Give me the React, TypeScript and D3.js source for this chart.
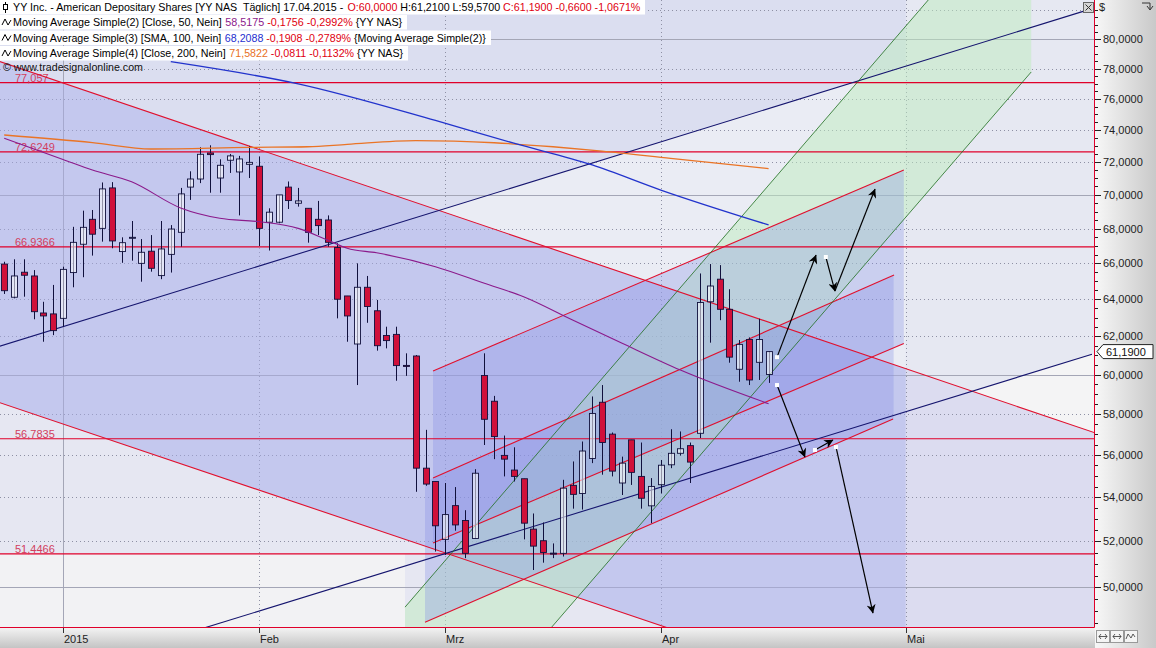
import * as d3 from 'd3';

const W = 1156;
const H = 648;
const PW = 1094; // plot right edge
const PH = 627; // plot bottom edge

// daily bars, index 0 = 23.12.2014 ... index 78 = 17.04.2015
const opens = [65.96, 64.11, 65.5, 65.29, 63.25, 63.2, 62.96, 65.48, 67.09, 68.54,
  68.01, 70.41, 66.67, 67.47, 66.0, 66.69, 65.31, 66.51, 67.78, 70.46,
  70.95, 72.55, 71.01, 72.1, 71.38, 71.85, 71.73, 68.37, 68.37, 70.46,
  69.49, 69.19, 68.54, 68.5, 66.9, 64.18, 61.59, 64.66, 63.37, 62.04,
  62.1, 60.47, 60.96, 55.37, 54.74, 52.09, 53.62, 52.94, 52.13, 59.95,
  58.64, 55.98, 55.28, 54.87, 52.55, 52.03, 51.48, 51.47, 54.56, 54.18,
  55.83, 58.59, 57.01, 54.67, 56.73, 54.98, 53.61, 54.59, 55.53, 56.08,
  56.45, 57.05, 63.86, 65.11, 63.45, 60.27, 61.83, 60.63, 60.0];
const highs = [66.09, 66.23, 66.23, 65.62, 63.86, 64.79, 65.81, 68.1, 69.05, 69.09,
  70.74, 70.76, 67.49, 68.44, 67.39, 67.62, 68.44, 68.2, 70.41, 71.42,
  72.91, 73.03, 72.16, 72.49, 72.37, 72.99, 72.33, 69.19, 69.99, 70.8,
  70.41, 69.19, 69.63, 68.77, 67.15, 64.18, 66.0, 65.29, 63.96, 62.51,
  62.51, 61.1, 61.01, 57.22, 54.74, 54.67, 54.48, 53.41, 55.32, 61.1,
  58.91, 56.94, 56.37, 54.87, 53.26, 52.85, 51.91, 54.82, 55.69, 56.65,
  58.88, 59.46, 57.09, 55.92, 56.73, 56.6, 54.9, 55.76, 57.25, 57.14,
  56.6, 65.43, 65.96, 65.9, 64.55, 61.8, 61.94, 62.94, 61.21];
const lows = [64.29, 64.05, 64.14, 62.91, 61.71, 62.06, 62.51, 64.66, 65.22, 66.44,
  67.24, 66.86, 66.03, 66.15, 64.97, 65.53, 65.11, 65.48, 66.95, 69.69,
  70.7, 70.12, 70.12, 71.32, 68.77, 71.01, 66.99, 66.73, 68.31, 69.15,
  69.29, 67.18, 67.62, 66.95, 62.96, 61.71, 59.46, 62.72, 61.24, 61.36,
  59.68, 59.93, 54.26, 54.54, 51.55, 51.4, 52.48, 51.26, 52.13, 56.48,
  55.8, 54.98, 54.74, 52.09, 50.74, 51.06, 51.26, 51.33, 53.48, 53.44,
  55.61, 55.06, 54.98, 54.11, 54.58, 53.48, 52.82, 54.18, 55.37, 55.97,
  54.67, 56.82, 61.66, 62.86, 60.61, 59.63, 59.46, 59.72, 59.57];
const closes = [64.47, 65.29, 65.33, 63.32, 63.09, 62.3, 65.66, 67.2, 68.07, 67.67,
  70.35, 67.28, 67.18, 67.49, 66.63, 65.72, 66.82, 67.97, 70.05, 70.95,
  72.47, 72.45, 71.79, 72.37, 72.18, 71.97, 68.01, 68.96, 69.99, 69.65,
  69.63, 67.78, 68.17, 67.2, 64.0, 63.09, 64.66, 63.6, 61.5, 61.77,
  60.46, 60.46, 55.37, 54.62, 52.7, 53.21, 52.74, 51.47, 55.13, 57.74,
  56.89, 55.8, 54.98, 52.82, 51.79, 51.51, 51.47, 54.43, 54.14, 56.19,
  58.03, 56.6, 55.23, 55.61, 55.17, 53.96, 54.51, 55.51, 56.08, 56.3,
  55.66, 63.82, 64.73, 63.45, 60.9, 61.57, 59.72, 61.83, 61.19];

const monthLabels = ['2015', 'Feb', 'Mrz', 'Apr', 'Mai'];
const monthIndex = [6, 26, 45, 67, 92];

const priceTicks = [50, 52, 54, 56, 58, 60, 62, 64, 66, 68, 70, 72, 74, 76, 78, 80];
const gridLevels = [50, 52, 54, 56, 58, 60, 62, 64, 66, 68, 70, 72, 74, 76, 78, 80, 82];
const minorTicks = [48.5, 49, 49.5, 50.5, 51, 51.5, 52.5, 53, 53.5, 54.5, 55, 55.5, 56.5, 57, 57.5,
  58.5, 59, 59.5, 60.5, 61, 61.5, 62.5, 63, 63.5, 64.5, 65, 65.5, 66.5, 67, 67.5, 68.5, 69, 69.5,
  70.5, 71, 71.5, 72.5, 73, 73.5, 74.5, 75, 75.5, 76.5, 77, 77.5, 78.5, 79, 79.5, 80.5, 81, 81.5, 82];

const levelValues = [77.057, 72.6249, 66.9366, 56.7835, 51.4466];
const levelLabels = ['77,057', '72,6249', '66,9366', '56,7835', '51,4466'];

// moving averages, [bar index, value]
const ma50Idx = [0, 6, 9, 13, 18, 22, 26, 30, 33, 35, 38, 44, 49, 53, 58, 63, 69, 78];
const ma50Val = [73.47, 72.15, 71.5, 70.78, 69.21, 68.6, 68.4, 68.01, 67.33, 66.86, 66.6, 65.81,
  64.88, 64.14, 62.87, 61.64, 60.23, 58.5175];
const ma100Idx = [17, 30, 44, 52, 60, 67, 78];
const ma100Val = [78.46, 76.98, 74.6, 73.16, 71.81, 70.28, 68.2088];
const ma200Idx = [0, 9, 15, 25, 31, 35, 42, 50, 56, 61, 68, 78];
const ma200Val = [73.68, 73.2, 72.8, 72.9, 72.94, 73.09, 73.32, 73.19, 72.94, 72.67, 72.22, 71.5822];

// drawing tools, anchors as [bar index, price]
type Pt = [number, number];
const descUpper: Pt[] = [[-1, 78.59], [112, 56.96]];
const descLower: Pt[] = [[-1, 58.66], [70, 47.97]];
const navyUpper: Pt[] = [[-1, 61.39], [111, 82.11]];
const navyLower: Pt[] = [[20, 48.23], [111, 61.05]];
const riseTop: Pt[] = [[43.76, 60.18], [91.8, 71.5]];
const riseMid: Pt[] = [[43.76, 51.93], [91.8, 61.62]];
const riseB1: Pt[] = [[43.76, 54.9], [90.8, 65.34]];
const riseB2: Pt[] = [[42.94, 48.52], [90.7, 57.75]];
const greenUpper: Pt[] = [[40.9, 49.15], [96, 84.11]];
const greenLower: Pt[] = [[54.7, 47.77], [104.8, 77.77]];
const greenSpan = [40.9, 104.8];
const descEnd = 92;
const navyCross = 44.3; // navy upper meets desc upper

// arrows [i1, v1, i2, v2, start dot]
const arrows: [number, number, number, number, boolean][] = [
  [78.86, 60.9, 82.84, 66.47, true],
  [83.84, 66.36, 84.77, 64.45, true],
  [84.77, 64.45, 88.86, 70.34, false],
  [78.86, 59.46, 81.71, 55.9, true],
  [82.73, 56.24, 84.57, 56.72, true],
  [84.88, 56.38, 88.65, 48.9, true],
];

const locale = d3.formatLocale({ decimal: ',', thousands: '.', grouping: [3], currency: ['', ''] });
const f4 = locale.format('.4f');

const x = d3.scaleLinear().domain([0, 100]).range([4.2, 984.2]);
const y = d3.scaleLog().domain([48.32, 82.72]).range([PH, 0]);

const toPx = (p: Pt): Pt => [x(p[0]), y(p[1])];
function onLine(seg: Pt[], i: number): Pt {
  const [x1, y1] = toPx(seg[0]);
  const [x2, y2] = toPx(seg[1]);
  const xi = x(i);
  return [xi, y1 + ((xi - x1) / (x2 - x1)) * (y2 - y1)];
}
const poly = (pts: Pt[]) => 'M' + pts.map((p) => `${p[0].toFixed(1)},${p[1].toFixed(1)}`).join('L') + 'Z';
const band = (a: Pt[], b: Pt[], i0: number, i1: number) =>
  poly([onLine(a, i0), onLine(a, i1), onLine(b, i1), onLine(b, i0)]);

const FONT = '"Liberation Sans", Arial, sans-serif';
const RED = '#e0102e';
const last = closes.length - 1;

let ctx: CanvasRenderingContext2D | null = null;
function measure(s: string, size: number) {
  if (!ctx) ctx = document.createElement('canvas').getContext('2d');
  if (!ctx) return s.length * size * 0.5;
  ctx.font = `${size}px "Liberation Sans", Arial, sans-serif`;
  return ctx.measureText(s).width;
}

const legendRows: { w: number; tl: number; icon: string; parts: [string, string][] }[] = [
  {
    w: 645, tl: 628, icon: 'bar',
    parts: [
      ['YY Inc. - American Depositary Shares [YY NAS  Täglich] 17.04.2015 - ', '#000'],
      [`O:${f4(opens[last])}`, '#e00010'],
      [` H:${f4(highs[last])} L:${f4(lows[last])} `, '#000'],
      [`C:${f4(closes[last])} -0,6600 -1,0671%`, '#e00010'],
    ],
  },
  {
    w: 407, tl: 390, icon: 'ma',
    parts: [
      ['Moving Average Simple(2) [Close, 50, Nein] ', '#000'],
      [f4(ma50Val[ma50Val.length - 1]), '#8b1a8b'],
      [' -0,1756 -0,2992%', '#e00010'],
      [' {YY NAS}', '#000'],
    ],
  },
  {
    w: 491, tl: 474, icon: 'ma',
    parts: [
      ['Moving Average Simple(3) [SMA, 100, Nein] ', '#000'],
      [f4(ma100Val[ma100Val.length - 1]), '#1f2fd0'],
      [' -0,1908 -0,2789%', '#e00010'],
      [' {Moving Average Simple(2)}', '#000'],
    ],
  },
  {
    w: 408, tl: 391, icon: 'ma',
    parts: [
      ['Moving Average Simple(4) [Close, 200, Nein] ', '#000'],
      [f4(ma200Val[ma200Val.length - 1]), '#e8701c'],
      [' -0,0811 -0,1132%', '#e00010'],
      [' {YY NAS}', '#000'],
    ],
  },
];

function maPath(idx: number[], val: number[]) {
  const line = d3
    .line<number>()
    .x((_, k) => x(idx[k]))
    .y((v) => y(v))
    .curve(d3.curveMonotoneX);
  return line(val) || '';
}

function LegendRow({ row, top }: { row: (typeof legendRows)[number]; top: number }) {
  const base = 11.5;
  const total = d3.sum(row.parts, (p) => measure(p[0], base));
  const fs = Math.min(12, (base * row.tl) / total);
  let cx = 13;
  return (
    <g>
      <rect x={0} y={top} width={row.w} height={14.5} fill="#fff" />
      {row.icon === 'bar' ? (
        <g stroke="#000" fill="#fff">
          <line x1={5.5} x2={5.5} y1={top + 2} y2={top + 13} />
          <rect x={3.5} y={top + 4.5} width={4} height={5} />
        </g>
      ) : (
        <path d={`M2,${top + 10} L5,${top + 4} L8,${top + 10} L11,${top + 5}`} fill="none" stroke="#000" />
      )}
      {row.parts.map((p, j) => {
        const lead = p[0].length - p[0].trimStart().length;
        const txt = p[0].trim();
        const x0 = cx + measure(p[0].slice(0, lead), fs);
        cx += measure(p[0], fs);
        return (
          <text key={j} x={x0} y={top + 11} fontSize={fs} fill={p[1]} style={{ whiteSpace: 'pre' }}>
            {txt}
          </text>
        );
      })}
    </g>
  );
}

export default function App() {
  const bottom = PH + 10;
  const lastY = y(closes[last]);

  return (
    <div>
      <style>{'body{margin:0;overflow:hidden;}'}</style>
      <svg width={W} height={H} style={{ display: 'block', fontFamily: FONT }}>
        <defs>
          <clipPath id="plot">
            <rect x={0} y={0} width={PW} height={PH} />
          </clipPath>
          <linearGradient id="axR" x1="0" x2="1" y1="0" y2="0">
            <stop offset="0%" stopColor="#f7f7f7" />
            <stop offset="100%" stopColor="#c9c9c9" />
          </linearGradient>
          <linearGradient id="axB" x1="0" x2="0" y1="0" y2="1">
            <stop offset="0%" stopColor="#f2f2f2" />
            <stop offset="100%" stopColor="#c4c4c4" />
          </linearGradient>
          <marker id="ah" viewBox="0 0 10 10" refX="9.5" refY="5" markerWidth="11" markerHeight="9"
            orient="auto" markerUnits="userSpaceOnUse">
            <path d="M0,0 L10,5 L0,10 L3,5 Z" fill="#000" />
          </marker>
        </defs>

        {/* plot background and zone fills */}
        <g clipPath="url(#plot)">
          <rect x={0} y={0} width={PW} height={PH} fill="#e6e8f2" />
          <rect x={0} y={0} width={x(descEnd)} height={PH} fill="rgba(190,195,238,0.27)" />
          <path d={poly([onLine(navyUpper, navyCross), onLine(navyUpper, descEnd), onLine(descUpper, descEnd)])}
            fill="#eaecf4" />
          <path d={poly([onLine(descLower, -1), onLine(descLower, descEnd), [x(descEnd), bottom], [x(-1), bottom]])}
            fill="#e6e7f2" />
          <path d={poly([[x(-1), y(levelValues[4])], [x(greenSpan[0]), y(levelValues[4])],
            [x(greenSpan[0]), bottom], [x(-1), bottom]])} fill="#f2f2f4" />
          <path d={poly([onLine(navyLower, descEnd), onLine(navyLower, 112), [x(112), bottom], [x(descEnd), bottom]])}
            fill="#f4f4f5" />
          <path d={poly([onLine(descUpper, descEnd), onLine(descUpper, 112), [x(112), bottom], [x(descEnd), bottom]])}
            fill="#dcdcf0" />

          {/* grid */}
          {gridLevels.map((v) => (
            <line key={'g' + v} x1={0} x2={PW} y1={Math.round(y(v)) + 0.5} y2={Math.round(y(v)) + 0.5}
              stroke={v % 10 === 0 ? '#a4a6b6' : '#8e90a4'} strokeWidth={1}
              strokeDasharray={v % 10 === 0 ? undefined : '1,3'} />
          ))}
          {monthIndex.map((i, k) => (
            <line key={'v' + k} x1={Math.round(x(i)) + 0.5} x2={Math.round(x(i)) + 0.5} y1={0} y2={PH}
              stroke={k === 0 ? '#a4a6b6' : '#8e90a4'} strokeDasharray={k === 0 ? undefined : '1,3'} />
          ))}

          {/* channel fills */}
          <path d={band(descUpper, descLower, -1, descEnd)} fill="rgba(168,174,234,0.45)" />
          <path d={band(greenUpper, greenLower, greenSpan[0], greenSpan[1])} fill="rgba(190,236,190,0.5)" />
          <path d={band(riseTop, riseMid, riseTop[0][0], riseTop[1][0])} fill="rgba(128,138,230,0.3)" />
          <path d={band(riseB1, riseB2, riseB2[0][0], 90.75)} fill="rgba(128,138,230,0.3)" />

          {/* horizontal levels */}
          {levelValues.map((v, k) => (
            <g key={'l' + k}>
              <line x1={0} x2={PW} y1={y(v)} y2={y(v)} stroke="#e0002a" strokeWidth={1.2} />
              <text x={15} y={y(v) - 1} fontSize={11} fill="#d2405e">{levelLabels[k]}</text>
            </g>
          ))}

          {/* trend lines */}
          {[descUpper, descLower, riseTop, riseMid, riseB1, riseB2].map((s, k) => (
            <line key={'r' + k} x1={toPx(s[0])[0]} y1={toPx(s[0])[1]} x2={toPx(s[1])[0]} y2={toPx(s[1])[1]}
              stroke={RED} strokeWidth={1.1} />
          ))}
          {[navyUpper, navyLower].map((s, k) => (
            <line key={'n' + k} x1={toPx(s[0])[0]} y1={toPx(s[0])[1]} x2={toPx(s[1])[0]} y2={toPx(s[1])[1]}
              stroke="#15156e" strokeWidth={1.1} />
          ))}
          {[greenUpper, greenLower].map((s, k) => (
            <line key={'gr' + k} x1={toPx(s[0])[0]} y1={toPx(s[0])[1]} x2={toPx(s[1])[0]} y2={toPx(s[1])[1]}
              stroke="#1f6f1f" strokeWidth={0.8} />
          ))}

          {/* candles */}
          {opens.map((o, i) => {
            const c = closes[i];
            const cx = Math.round(x(i)) + 0.5;
            const top = y(Math.max(o, c));
            const bot = y(Math.min(o, c));
            const down = c < o;
            return (
              <g key={'c' + i}>
                <line x1={cx} x2={cx} y1={y(highs[i])} y2={y(lows[i])} stroke="#10103c" strokeWidth={1} />
                <rect x={cx - 3} y={top} width={6} height={Math.max(1, bot - top)}
                  fill={down ? '#d0103a' : 'rgba(255,255,255,0.55)'} stroke="#10103c" strokeWidth={0.9} />
              </g>
            );
          })}

          {/* moving averages */}
          <path d={maPath(ma200Idx, ma200Val)} fill="none" stroke="#ea7426" strokeWidth={1.3} />
          <path d={maPath(ma100Idx, ma100Val)} fill="none" stroke="#2233cc" strokeWidth={1.3} />
          <path d={maPath(ma50Idx, ma50Val)} fill="none" stroke="#8b1a8b" strokeWidth={1.1} />

          {/* arrows */}
          {arrows.map((a, k) => (
            <g key={'a' + k}>
              <line x1={x(a[0])} y1={y(a[1])} x2={x(a[2])} y2={y(a[3])} stroke="#000" strokeWidth={1.2}
                markerEnd="url(#ah)" />
              {a[4] && <rect x={x(a[0]) - 2} y={y(a[1]) - 2} width={4} height={4} fill="#fff" />}
            </g>
          ))}
        </g>

        {/* plot border */}
        <line x1={PW + 0.5} x2={PW + 0.5} y1={0} y2={PH + 0.5} stroke="#e0002a" />
        <line x1={0} x2={PW + 0.5} y1={PH + 0.5} y2={PH + 0.5} stroke="#e0002a" strokeWidth={1.2} />

        {/* legend */}
        {legendRows.map((r, k) => (
          <LegendRow key={'lg' + k} row={r} top={[0, 15, 30.5, 46][k]} />
        ))}
        <text x={3} y={70.5} fontSize={10.5} fill="#111" textLength={140} lengthAdjust="spacingAndGlyphs">
          © www.tradesignalonline.com
        </text>

        {/* close box */}
        <g>
          <rect x={1083.5} y={2.5} width={10} height={10} fill="#d6d6d6" stroke="#666" />
          <path d="M1085.5,4.5 L1091.5,10.5 M1091.5,4.5 L1085.5,10.5" stroke="#333" />
        </g>

        {/* right axis */}
        <rect x={PW + 1} y={0} width={W - PW - 1} height={H} fill="url(#axR)" />
        <text x={1099} y={11} fontSize={11} fill="#222">$</text>
        <path d="M1142,3 L1150,3 L1150,9 M1147,6 L1150,10 L1153,6" fill="none" stroke="#333" />
        {minorTicks.map((v) => (
          <line key={'mt' + v} x1={PW + 1} x2={PW + 4} y1={Math.round(y(v)) + 0.5} y2={Math.round(y(v)) + 0.5}
            stroke="#222" />
        ))}
        {priceTicks.map((v) => (
          <g key={'pt' + v}>
            <line x1={PW + 1} x2={PW + 7} y1={Math.round(y(v)) + 0.5} y2={Math.round(y(v)) + 0.5} stroke="#222" />
            <text x={1103} y={y(v) + 4} fontSize={11} fill="#222">{f4(v)}</text>
          </g>
        ))}
        <path d={`M${PW + 3},${lastY} L${PW + 9},${lastY - 7} L1153,${lastY - 7} L1153,${lastY + 7} L${PW + 9},${lastY + 7} Z`}
          fill="#fff" stroke="#222" />
        <text x={1106} y={lastY + 4} fontSize={11} fill="#111">{f4(closes[last])}</text>

        {/* bottom axis */}
        <rect x={0} y={PH + 1} width={PW + 1} height={H - PH - 1} fill="url(#axB)" />
        {monthIndex.map((i, k) => (
          <g key={'mx' + k}>
            <line x1={Math.round(x(i)) + 0.5} x2={Math.round(x(i)) + 0.5} y1={PH + 1} y2={PH + 6} stroke="#333" />
            <text x={Math.round(x(i)) + 1} y={643} fontSize={11} fill="#222">{monthLabels[k]}</text>
          </g>
        ))}
        {[0, 1, 2].map((k) => (
          <rect key={'bt' + k} x={1096.5 + k * 14} y={630.5} width={13} height={12} fill="#f4f4f4" stroke="#999" />
        ))}
        <path d="M1099,636.5 L1107,636.5 M1101,634 L1099,636.5 L1101,639 M1105,634 L1107,636.5 L1105,639
          M1113,636.5 L1121,636.5 M1115,634 L1113,636.5 L1115,639 M1119,634 L1121,636.5 L1119,639
          M1126,639 L1128,634 L1131,638 L1133,634 L1135,637" fill="none" stroke="#333" strokeWidth={0.8} />
      </svg>
    </div>
  );
}
